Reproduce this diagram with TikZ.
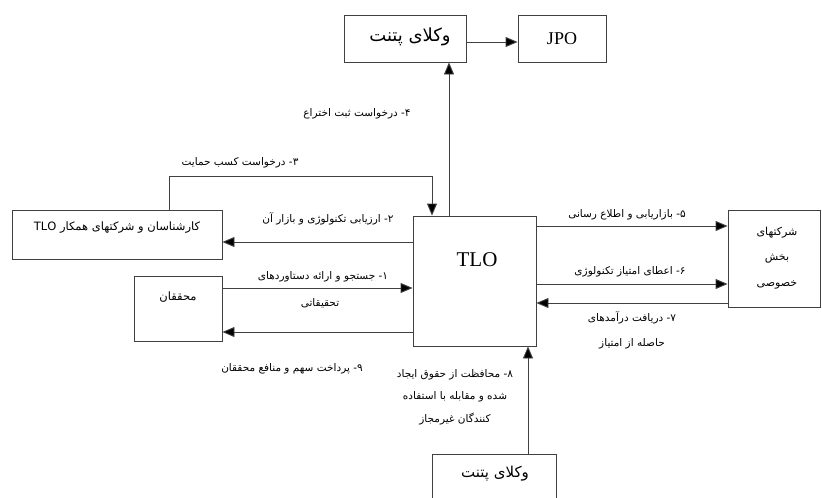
\documentclass[tikz,border=0pt]{standalone}
\usepackage{fontspec}
\setmainfont{Liberation Serif}
\newfontfamily\persian[Script=Arabic]{DejaVu Sans}
\TeXXeTstate=1
\usetikzlibrary{arrows.meta}
\def\fa#1{{\persian\beginR #1\endR}}

\begin{document}
\begin{tikzpicture}[
        x=1pt, y=-1pt,
        box/.style={draw=black!75, line width=.9pt, inner sep=0pt},
        arrow/.style={-{Triangle[length=12pt,width=10pt,fill=black]}, line width=.9pt, draw=black!75},
        lbl/.style={font=\fontsize{10.5}{12}\selectfont, align=center, inner sep=0pt},
        boxtext/.style={font=\fontsize{11.5}{12}\selectfont, inner sep=0pt},
    ]
    \useasboundingbox (0,0) rectangle (822,498);
    \clip (0,0) rectangle (822,498);

    \node[box, minimum width=122pt, minimum height=47pt] (patent) at (405,38.5) {};
    \node[boxtext, font=\fontsize{18}{18}\selectfont] (patenttext) at (410,37) {\fa{وکلای پتنت}};
    \node[box, minimum width=88pt, minimum height=47pt, font=\fontsize{18}{18}\selectfont] (jpo) at (562,38.5) {JPO};
    \node[box, minimum width=123pt, minimum height=130pt] (tlo) at (474.5,281) {};
    \node[font=\fontsize{21}{21}\selectfont, inner sep=0pt] (tlotext) at (477,260) {TLO};
    \node[box, minimum width=210pt, minimum height=49pt] (coop) at (117,234.5) {};
    \node[boxtext] (cooptext) at (117,228) {\fa{کارشناسان و شرکتهای همکار \beginL TLO\endL}};
    \node[box, minimum width=88pt, minimum height=65pt] (res) at (178,308.5) {};
    \node[boxtext] (restext) at (178,297) {\fa{محققان}};
    \node[box, minimum width=92pt, minimum height=97pt] (comp) at (774,258.5) {};
    \node[boxtext, align=center, font=\fontsize{11}{25.5}\selectfont] (comptext) at (777,258) {\fa{شرکتهای}\\\fa{بخش}\\\fa{خصوصی}};
    \node[box, minimum width=124pt, minimum height=60pt] (patentb) at (494,484) {};
    \node[boxtext, font=\fontsize{15}{15}\selectfont] (patentbtext) at (495,474) {\fa{وکلای پتنت}};

    \coordinate (t2) at ([yshift=39pt]tlo.west);
    \coordinate (t1) at ([yshift=-7pt]tlo.west);
    \coordinate (t9) at ([yshift=-51pt]tlo.west);
    \coordinate (t5) at ([yshift=55pt]tlo.east);
    \coordinate (t6) at ([yshift=-3pt]tlo.east);
    \coordinate (t7) at ([yshift=-22pt]tlo.east);
    \coordinate (t4) at ([xshift=-25.5pt]tlo.north);
    \coordinate (t3) at ([xshift=-42.5pt]tlo.north);
    \coordinate (t8) at ([xshift=53.5pt]tlo.south);
    \coordinate (c3) at ([xshift=52pt]coop.north);

    \draw[arrow] ([yshift=-3.5pt]patent.east) -- ([yshift=-3.5pt]jpo.west);
    \draw[arrow] (t4) -- (t4 |- patent.south);
    \draw[arrow] (c3) -- ++(0,-33) -| (t3);
    \draw[arrow] (t2) -- (t2 -| coop.east);
    \draw[arrow] (t1 -| res.east) -- (t1);
    \draw[arrow] (t9) -- (t9 -| res.east);
    \draw[arrow] (t5) -- (t5 -| comp.west);
    \draw[arrow] (t6) -- (t6 -| comp.west);
    \draw[arrow] (t7 -| comp.west) -- (t7);
    \draw[arrow, {Triangle[length=12pt,width=10pt,fill=black]}-] (t8) -- (t8 |- patentb.north);

    \node[lbl] (l4) at (357,114) {\fa{۴- درخواست ثبت اختراع}};
    \node[lbl] (l3) at (240,163) {\fa{۳- درخواست کسب حمایت}};
    \node[lbl] (l2) at (328,219) {\fa{۲- ارزیابی تکنولوژی و بازار آن}};
    \node[lbl] (l1) at (323,277) {\fa{۱- جستجو و ارائه دستاوردهای}};
    \node[lbl] (l1b) at (320,303) {\fa{تحقیقاتی}};
    \node[lbl] (l9) at (292,369) {\fa{۹- پرداخت سهم و منافع محققان}};
    \node[lbl, font=\fontsize{10.5}{22.5}\selectfont] (l8) at (455,397) {\fa{۸- محافظت از حقوق ایجاد}\\\fa{شده و مقابله با استفاده}\\\fa{کنندگان غیرمجاز}};
    \node[lbl] (l5) at (627,215) {\fa{۵- بازاریابی و اطلاع رسانی}};
    \node[lbl] (l6) at (630,272) {\fa{۶- اعطای امتیاز تکنولوژی}};
    \node[lbl, font=\fontsize{10.5}{25}\selectfont] (l7) at (632,330.5) {\fa{۷- دریافت درآمدهای}\\\fa{حاصله از امتیاز}};
\end{tikzpicture}
\end{document}
